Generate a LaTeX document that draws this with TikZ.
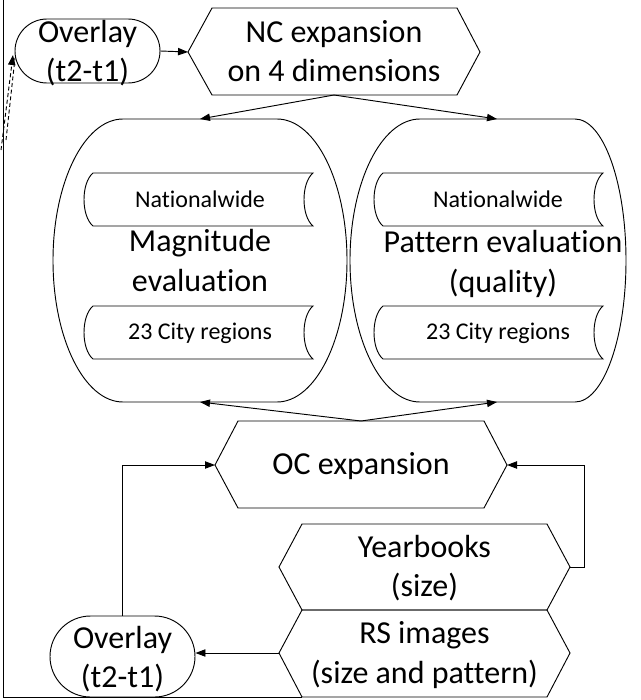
\documentclass[tikz,border=0pt]{standalone}
\usepackage{fontspec}
\setmainfont{Carlito}[Ligatures={NoCommon,NoRequired,NoContextual}]
\usetikzlibrary{arrows.meta}
% stored-data box: left x, right x, top y, bottom y
\newcommand\sdbox[4]{%
  \draw (#1,#3) -- (#2,#3) .. controls (#2-12,#3+10) and (#2-12,#4-10) .. (#2,#4)
        -- (#1,#4) .. controls (#1-12,#4-10) and (#1-12,#3+10) .. (#1,#3) -- cycle;}
\begin{document}
\begin{tikzpicture}[x=0.75pt,y=-0.75pt,line width=0.7pt,
  >={Triangle[length=7.5pt,width=5.5pt]},
  big/.style={font=\fontsize{24}{29.5}\selectfont,align=center,inner sep=0pt},
  small/.style={font=\fontsize{18}{22}\selectfont,inner sep=0pt},
  term/.style={draw,rectangle,minimum width=108.75pt,inner sep=0pt},
]
\path[use as bounding box] (0,0) rectangle (640,700);

% terminators
\node[term,minimum height=48pt,rounded corners=24pt] (ovtop) at (87.5,51) {};
\node[big] (ovtoptxt) at (87.5,53) {Overlay\\(t2-t1)};
\node[term,minimum height=60.75pt,rounded corners=30.375pt] (ovbot) at (122.5,656.5) {};
\node[big] (ovbottxt) at (122.5,659) {Overlay\\(t2-t1)};

% process hexagons
\draw (188,52) -- (212,8) -- (457,8) -- (480,52) -- (457,95) -- (212,95) -- cycle;
\coordinate (nc-w) at (188,52);
\coordinate (nc-s) at (334,95);
\node[big] (nc) at (334,51) {NC expansion\\on 4 dimensions};

\draw (215,465) -- (238,421) -- (484,421) -- (507,465) -- (484,508) -- (238,508) -- cycle;
\coordinate (oc-w) at (215,465);
\coordinate (oc-e) at (507,465);
\coordinate (oc-n) at (361,421);
\node[big] (oc) at (361,466) {OC expansion};

\draw (279,567) -- (302,524) -- (547,524) -- (570,567) -- (547,610) -- (302,610) -- cycle;
\coordinate (yb-e) at (570,567);
\node[big] (yb) at (424.5,568) {Yearbooks\\(size)};

\draw (279,653) -- (302,610) -- (547,610) -- (570,653) -- (547,697) -- (302,697) -- cycle;
\coordinate (rs-w) at (279,653);
\coordinate (rs-sw) at (302,697);
\node[big] (rs) at (424.5,655) {RS images\\(size and pattern)};

% evaluation shapes
\draw (123,119) -- (277,119) arc[start angle=-90,end angle=90,x radius=70,y radius=141.5]
      -- (123,402) arc[start angle=90,end angle=270,x radius=70,y radius=141.5] -- cycle;
\coordinate (mag-n) at (200,119);
\coordinate (mag-s) at (200,402);
\node[big] (mag) at (200,260.5) {Magnitude\\evaluation};
\sdbox{93}{313}{173}{226}
\node[small] (magnat) at (200,199.5) {Nationalwide};
\sdbox{93}{313}{306}{359}
\node[small] (magcity) at (200,333) {23 City regions};

\draw (420,119) -- (575,119) arc[start angle=-90,end angle=90,x radius=51,y radius=141.5]
      -- (420,402) arc[start angle=90,end angle=270,x radius=70,y radius=141.5] -- cycle;
\coordinate (pat-n) at (497,119);
\coordinate (pat-s) at (497,402);
\node[big] (pat) at (503,264) {Pattern evaluation\\(quality)};
\sdbox{383}{603}{173}{226}
\node[small] (patnat) at (498,199.5) {Nationalwide};
\sdbox{383}{603}{306}{359}
\node[small] (patcity) at (498,333) {23 City regions};

% connectors
\draw[->] (ovtop.east) -- (nc-w);
\draw[->] (nc-s) -- (mag-n);
\draw[->] (nc-s) -- (pat-n);
\draw[->] (oc-n) -- (mag-s);
\draw[->] (oc-n) -- (pat-s);
\draw[->] (ovbot.north) -- (ovbot.north |- oc-w) -- (oc-w);
\draw[->] (yb-e) -- ++(14,0) |- (oc-e);
\draw[->] (rs-w) -- (rs-w -| ovbot.east);

% return line along the left border
\coordinate (corner) at (3,697);
\coordinate (topend) at (3,0);
\draw (rs-sw) -- (corner) -- (topend);
\coordinate (d1) at (1,150);
\coordinate (d2) at (6,140);
\coordinate (d1t) at (13,55);
\coordinate (d2t) at (15,58);
\draw[dash pattern=on 3pt off 2pt,->] (d1) -- (d1t);
\draw[dash pattern=on 3pt off 2pt] (d2) -- (d2t);
\end{tikzpicture}
\end{document}
